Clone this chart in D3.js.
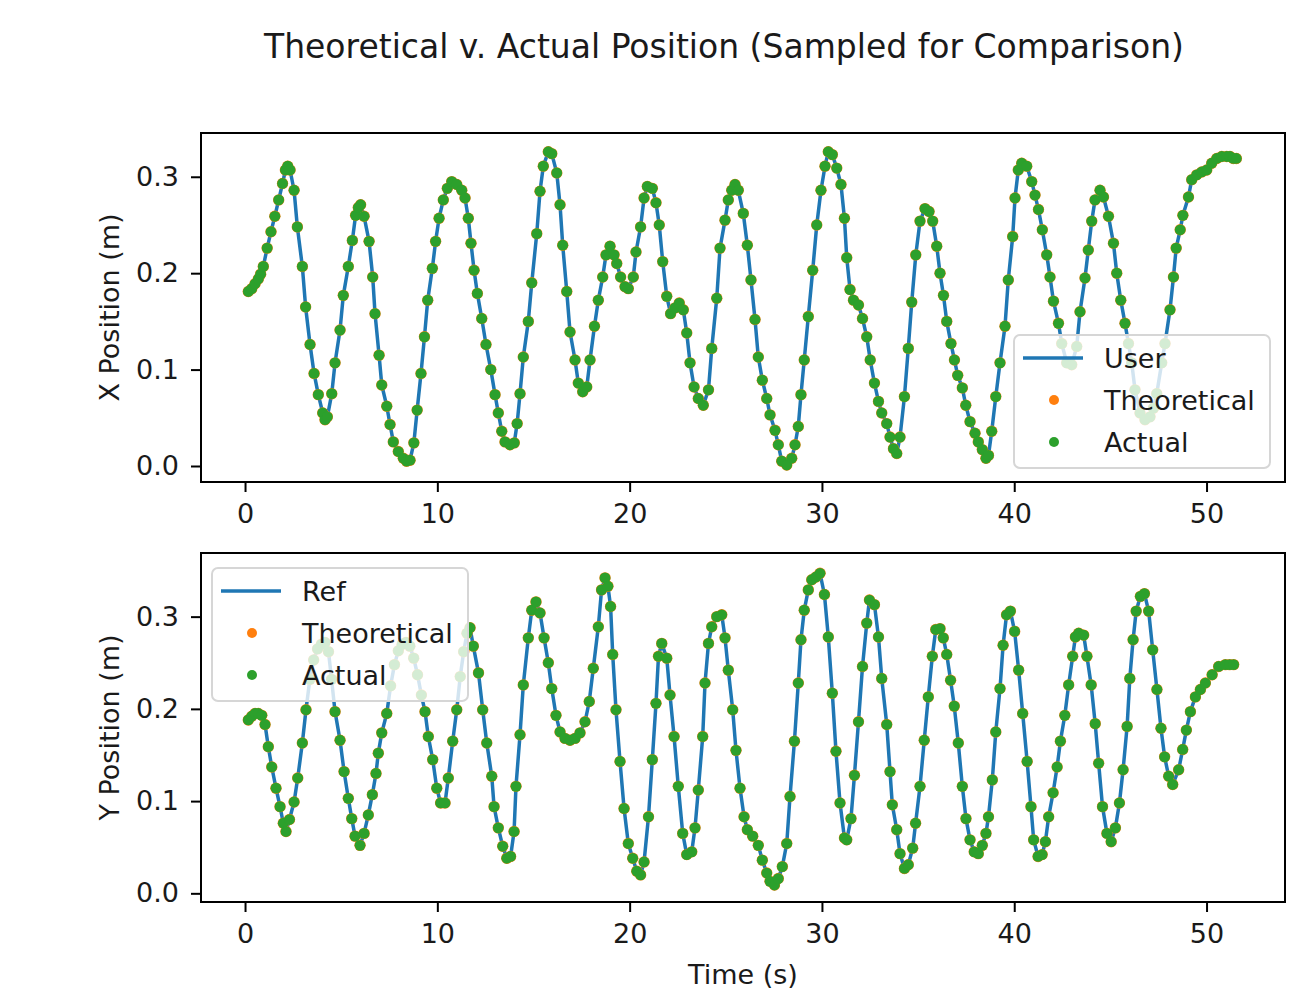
<!DOCTYPE html>
<html>
<head>
<meta charset="utf-8">
<script src="https://cdn.jsdelivr.net/npm/d3@7"></script>
<style>
  body { margin: 0; background: #fff; }
  svg { display: block; font-family: "DejaVu Sans", sans-serif; }
</style>
</head>
<body>
<script>
const width = 1292;
const height = 991;

// Sampled X position over time
const topTime = [0.17,0.35,0.52,0.69,0.81,0.95,1.15,1.35,1.55,1.75,
  1.95,2.10,2.22,2.34,2.55,2.72,2.98,3.15,3.38,3.59,
  3.81,4.04,4.16,4.28,4.51,4.68,4.94,5.11,5.37,5.58,
  5.75,5.89,6.01,6.19,6.45,6.64,6.76,6.97,7.11,7.37,
  7.54,7.71,7.97,8.23,8.40,8.58,8.78,8.95,9.15,9.33,
  9.50,9.74,9.91,10.09,10.31,10.52,10.75,11.01,11.27,11.44,
  11.61,11.75,11.91,12.08,12.31,12.53,12.78,13.00,13.17,13.35,
  13.52,13.78,14.00,14.15,14.30,14.47,14.73,14.91,15.17,15.34,
  15.51,15.77,15.95,16.21,16.38,16.52,16.73,16.90,17.16,17.33,
  17.56,17.77,17.94,18.17,18.37,18.60,18.77,18.98,19.19,19.33,
  19.53,19.76,19.93,20.19,20.33,20.57,20.75,20.92,21.18,21.37,
  21.54,21.72,21.93,22.13,22.36,22.58,22.79,22.97,23.14,23.35,
  23.57,23.83,24.10,24.27,24.53,24.70,24.96,25.13,25.31,25.48,
  25.65,25.91,26.12,26.31,26.52,26.69,26.90,27.13,27.30,27.56,
  27.73,27.91,28.17,28.43,28.60,28.77,28.91,29.08,29.29,29.52,
  29.73,29.95,30.16,30.33,30.54,30.77,30.99,31.17,31.29,31.46,
  31.64,31.90,32.11,32.33,32.51,32.73,32.94,33.11,33.37,33.54,
  33.72,33.89,34.06,34.29,34.49,34.67,34.88,35.10,35.36,35.57,
  35.76,35.97,36.14,36.32,36.49,36.71,36.89,37.06,37.30,37.48,
  37.70,37.96,38.13,38.34,38.53,38.66,38.83,39.04,39.26,39.52,
  39.69,39.92,40.04,40.21,40.39,40.65,40.91,41.08,41.26,41.46,
  41.69,41.86,42.04,42.30,42.47,42.73,42.99,43.25,43.42,43.68,
  43.85,44.03,44.20,44.46,44.64,44.90,45.16,45.33,45.54,45.76,
  45.94,46.11,46.28,46.54,46.80,47.06,47.24,47.41,47.67,47.84,
  48.10,48.28,48.42,48.63,48.77,49.06,49.23,49.49,49.75,50.01,
  50.27,50.53,50.79,51.05,51.22,51.39,51.55];
const topX = [0.181,0.184,0.189,0.194,0.199,0.207,0.226,0.243,0.259,0.276,
  0.293,0.307,0.311,0.307,0.286,0.248,0.207,0.165,0.126,0.096,
  0.074,0.055,0.048,0.051,0.075,0.107,0.141,0.177,0.207,0.234,
  0.260,0.268,0.271,0.259,0.233,0.196,0.158,0.115,0.084,0.062,
  0.043,0.025,0.015,0.008,0.005,0.006,0.024,0.058,0.096,0.134,
  0.172,0.205,0.233,0.257,0.276,0.288,0.295,0.292,0.286,0.278,
  0.257,0.231,0.203,0.179,0.153,0.126,0.100,0.074,0.055,0.036,
  0.025,0.022,0.024,0.044,0.075,0.113,0.150,0.190,0.241,0.285,
  0.311,0.326,0.324,0.304,0.271,0.229,0.181,0.139,0.110,0.086,
  0.077,0.082,0.110,0.145,0.172,0.196,0.219,0.228,0.219,0.210,
  0.196,0.186,0.184,0.196,0.222,0.248,0.278,0.290,0.288,0.273,
  0.250,0.212,0.176,0.158,0.164,0.169,0.162,0.138,0.107,0.082,
  0.070,0.063,0.079,0.122,0.174,0.226,0.255,0.276,0.286,0.292,
  0.286,0.262,0.229,0.193,0.152,0.113,0.089,0.070,0.053,0.037,
  0.022,0.005,0.001,0.008,0.022,0.041,0.074,0.110,0.155,0.203,
  0.250,0.286,0.311,0.326,0.323,0.309,0.292,0.257,0.216,0.183,
  0.172,0.167,0.153,0.134,0.110,0.086,0.067,0.055,0.044,0.030,
  0.018,0.013,0.030,0.072,0.122,0.170,0.219,0.254,0.267,0.264,
  0.254,0.228,0.200,0.177,0.150,0.127,0.110,0.094,0.081,0.063,
  0.046,0.034,0.025,0.017,0.008,0.011,0.036,0.072,0.107,0.145,
  0.193,0.238,0.278,0.307,0.314,0.311,0.295,0.281,0.266,0.245,
  0.219,0.196,0.171,0.148,0.127,0.107,0.105,0.124,0.160,0.195,
  0.224,0.254,0.276,0.286,0.279,0.259,0.231,0.200,0.172,0.148,
  0.127,0.107,0.079,0.055,0.048,0.051,0.060,0.075,0.107,0.127,
  0.162,0.196,0.226,0.245,0.260,0.279,0.297,0.302,0.305,0.307,
  0.314,0.319,0.321,0.321,0.321,0.319,0.319];

// Sampled Y position over time
const botTime = [0.17,0.35,0.52,0.69,0.87,1.04,1.21,1.39,1.61,1.82,
  1.99,2.13,2.31,2.55,2.74,2.98,3.17,3.37,3.57,3.77,
  3.97,4.16,4.34,4.50,4.68,4.94,5.15,5.37,5.55,5.72,
  5.98,6.19,6.41,6.62,6.81,6.93,7.11,7.37,7.57,7.77,
  7.97,8.17,8.37,8.57,8.77,8.97,9.17,9.36,9.53,9.76,
  9.97,10.17,10.40,10.57,10.80,11.01,11.19,11.37,11.54,11.70,
  11.87,12.14,12.36,12.57,12.83,12.95,13.17,13.40,13.61,13.81,
  13.99,14.09,14.30,14.47,14.73,14.91,15.13,15.34,15.55,15.77,
  15.95,16.17,16.38,16.64,16.90,17.16,17.42,17.68,17.90,18.11,
  18.37,18.54,18.72,18.87,19.01,19.12,19.29,19.50,19.71,19.93,
  20.16,20.37,20.57,20.75,20.98,21.18,21.37,21.50,21.67,21.93,
  22.10,22.31,22.53,22.76,22.97,23.23,23.40,23.57,23.80,23.92,
  24.10,24.27,24.53,24.79,24.96,25.13,25.36,25.53,25.74,25.95,
  26.12,26.40,26.69,26.90,27.13,27.30,27.53,27.73,27.94,28.17,
  28.34,28.57,28.77,28.91,29.08,29.29,29.47,29.69,29.90,30.13,
  30.33,30.54,30.73,30.94,31.17,31.29,31.51,31.69,31.90,32.11,
  32.33,32.47,32.73,32.94,33.11,33.37,33.54,33.66,33.89,34.06,
  34.29,34.49,34.72,34.87,35.10,35.32,35.53,35.74,35.92,36.14,
  36.31,36.49,36.69,36.88,37.09,37.30,37.49,37.70,37.92,38.13,
  38.34,38.53,38.66,38.86,39.04,39.26,39.42,39.60,39.80,40.02,
  40.23,40.44,40.67,40.87,41.01,41.24,41.45,41.62,41.79,42.02,
  42.23,42.40,42.63,42.83,43.04,43.18,43.35,43.61,43.78,44.00,
  44.21,44.39,44.59,44.82,45.04,45.26,45.47,45.66,45.87,46.01,
  46.18,46.34,46.56,46.77,46.99,47.20,47.42,47.63,47.82,48.03,
  48.24,48.55,48.76,48.95,49.16,49.42,49.68,49.94,50.29,50.63,
  50.98,51.20,51.41];
const botY = [0.188,0.192,0.195,0.195,0.193,0.183,0.159,0.137,0.114,0.094,
  0.076,0.067,0.080,0.099,0.125,0.163,0.199,0.232,0.253,0.265,
  0.270,0.272,0.262,0.232,0.197,0.166,0.132,0.103,0.081,0.062,
  0.052,0.065,0.085,0.107,0.130,0.152,0.174,0.195,0.225,0.248,
  0.263,0.270,0.272,0.268,0.255,0.237,0.215,0.197,0.170,0.145,
  0.114,0.098,0.098,0.125,0.165,0.199,0.235,0.262,0.282,0.288,
  0.268,0.239,0.199,0.163,0.127,0.094,0.071,0.051,0.038,0.040,
  0.067,0.116,0.172,0.226,0.277,0.307,0.316,0.304,0.277,0.250,
  0.222,0.193,0.175,0.168,0.166,0.168,0.174,0.186,0.208,0.244,
  0.289,0.329,0.342,0.333,0.311,0.259,0.199,0.143,0.092,0.054,
  0.038,0.024,0.020,0.034,0.083,0.145,0.206,0.257,0.271,0.255,
  0.215,0.170,0.116,0.065,0.042,0.045,0.071,0.112,0.170,0.228,
  0.271,0.289,0.300,0.302,0.277,0.242,0.199,0.155,0.114,0.083,
  0.069,0.062,0.052,0.036,0.022,0.013,0.009,0.016,0.029,0.054,
  0.105,0.165,0.228,0.275,0.307,0.329,0.340,0.343,0.347,0.324,
  0.278,0.217,0.154,0.098,0.060,0.058,0.081,0.128,0.186,0.246,
  0.293,0.318,0.313,0.278,0.233,0.183,0.132,0.096,0.069,0.043,
  0.027,0.031,0.049,0.076,0.116,0.166,0.213,0.257,0.286,0.287,
  0.277,0.259,0.231,0.203,0.163,0.116,0.081,0.058,0.045,0.043,
  0.052,0.065,0.083,0.123,0.175,0.222,0.269,0.302,0.306,0.284,
  0.242,0.195,0.143,0.094,0.058,0.040,0.042,0.056,0.083,0.109,
  0.137,0.165,0.193,0.226,0.257,0.278,0.282,0.280,0.257,0.226,
  0.184,0.141,0.094,0.065,0.056,0.071,0.098,0.134,0.181,0.233,
  0.275,0.306,0.322,0.325,0.306,0.264,0.221,0.179,0.148,0.127,
  0.118,0.134,0.156,0.177,0.197,0.213,0.221,0.228,0.237,0.246,
  0.248,0.248,0.248];

const xTicks = [0, 10, 20, 30, 40, 50];
const yTicks = [0.0, 0.1, 0.2, 0.3];

const blue = "#1f77b4", orange = "#ff7f0e", green = "#2ca02c";
const fontSize = 27;

let svg = d3.select("body").append("svg")
    .attr("width", width)
    .attr("height", height);

svg.append("text")
    .attr("x", 724)
    .attr("y", 58)
    .attr("text-anchor", "middle")
    .attr("font-size", 33)
    .attr("fill", "#1a1a1a")
    .text("Theoretical v. Actual Position (Sampled for Comparison)");

function drawPanel(opts) {
    let {top, times, values, yDomain, yLabel, lineName, legendAt} = opts;
    let left = 201, w = 1084, h = 349;

    let xScale = d3.scaleLinear().domain([-2.29, 54.08]).range([left, left + w]);
    let yScale = d3.scaleLinear().domain(yDomain).range([top + h, top]);

    let pts = d3.zip(times, values);

    let g = svg.append("g");

    // line
    g.append("path")
        .datum(pts)
        .attr("fill", "none")
        .attr("stroke", blue)
        .attr("stroke-width", 3.5)
        .attr("stroke-linejoin", "round")
        .attr("d", d3.line().x(d => xScale(d[0])).y(d => yScale(d[1])));

    // theoretical dots, then actual dots on top
    g.append("g").selectAll("circle")
        .data(pts)
        .join("circle")
        .attr("cx", d => xScale(d[0]))
        .attr("cy", d => yScale(d[1]))
        .attr("r", 5.7)
        .attr("fill", orange);
    g.append("g").selectAll("circle")
        .data(pts)
        .join("circle")
        .attr("cx", d => xScale(d[0]))
        .attr("cy", d => yScale(d[1]))
        .attr("r", 5.4)
        .attr("fill", green);

    // axes
    let bottomAxis = d3.axisBottom(xScale)
        .tickValues(xTicks)
        .tickFormat(d3.format("d"))
        .tickSize(10)
        .tickPadding(12);
    let leftAxis = d3.axisLeft(yScale)
        .tickValues(yTicks)
        .tickFormat(d3.format(".1f"))
        .tickSize(10)
        .tickPadding(12);

    let bx = g.append("g")
        .attr("transform", `translate(0, ${top + h})`)
        .call(bottomAxis);
    let lx = g.append("g")
        .attr("transform", `translate(${left}, 0)`)
        .call(leftAxis);
    for (let a of [bx, lx]) {
        a.select(".domain").remove();
        a.selectAll(".tick line").attr("stroke", "#000").attr("stroke-width", 2);
        a.selectAll(".tick text")
            .attr("font-family", "DejaVu Sans")
            .attr("font-size", fontSize)
            .attr("fill", "#1a1a1a");
    }

    // frame
    g.append("rect")
        .attr("x", left).attr("y", top)
        .attr("width", w).attr("height", h)
        .attr("fill", "none")
        .attr("stroke", "#000")
        .attr("stroke-width", 2);

    // y label
    g.append("text")
        .attr("transform", `translate(119, ${top + h / 2}) rotate(-90)`)
        .attr("text-anchor", "middle")
        .attr("font-size", fontSize)
        .attr("fill", "#1a1a1a")
        .text(yLabel);

    // legend
    let lg = g.append("g").attr("transform", `translate(${legendAt[0]}, ${legendAt[1]})`);
    lg.append("rect")
        .attr("width", 256).attr("height", 133)
        .attr("rx", 6)
        .attr("fill", "#fff").attr("fill-opacity", 0.8)
        .attr("stroke", "#d6d6d6").attr("stroke-width", 2);
    let entries = [lineName, "Theoretical", "Actual"];
    entries.forEach((name, i) => {
        let cy = 23 + i * 42;
        if (i === 0) {
            lg.append("line")
                .attr("x1", 9).attr("x2", 69)
                .attr("y1", cy).attr("y2", cy)
                .attr("stroke", blue).attr("stroke-width", 3.5);
        } else {
            lg.append("circle")
                .attr("cx", 40).attr("cy", cy)
                .attr("r", 5)
                .attr("fill", i === 1 ? orange : green);
        }
        lg.append("text")
            .attr("x", 90).attr("y", cy + 10)
            .attr("font-size", fontSize)
            .attr("fill", "#1a1a1a")
            .text(name);
    });
}

drawPanel({
    top: 133,
    times: topTime,
    values: topX,
    yDomain: [-0.0166, 0.3454],
    yLabel: "X Position (m)",
    lineName: "User",
    legendAt: [1014, 335]
});

drawPanel({
    top: 553,
    times: botTime,
    values: botY,
    yDomain: [-0.0094, 0.369],
    yLabel: "Y Position (m)",
    lineName: "Ref",
    legendAt: [212, 568]
});

svg.append("text")
    .attr("x", 743)
    .attr("y", 984)
    .attr("text-anchor", "middle")
    .attr("font-size", fontSize)
    .attr("fill", "#1a1a1a")
    .text("Time (s)");
</script>
</body>
</html>
